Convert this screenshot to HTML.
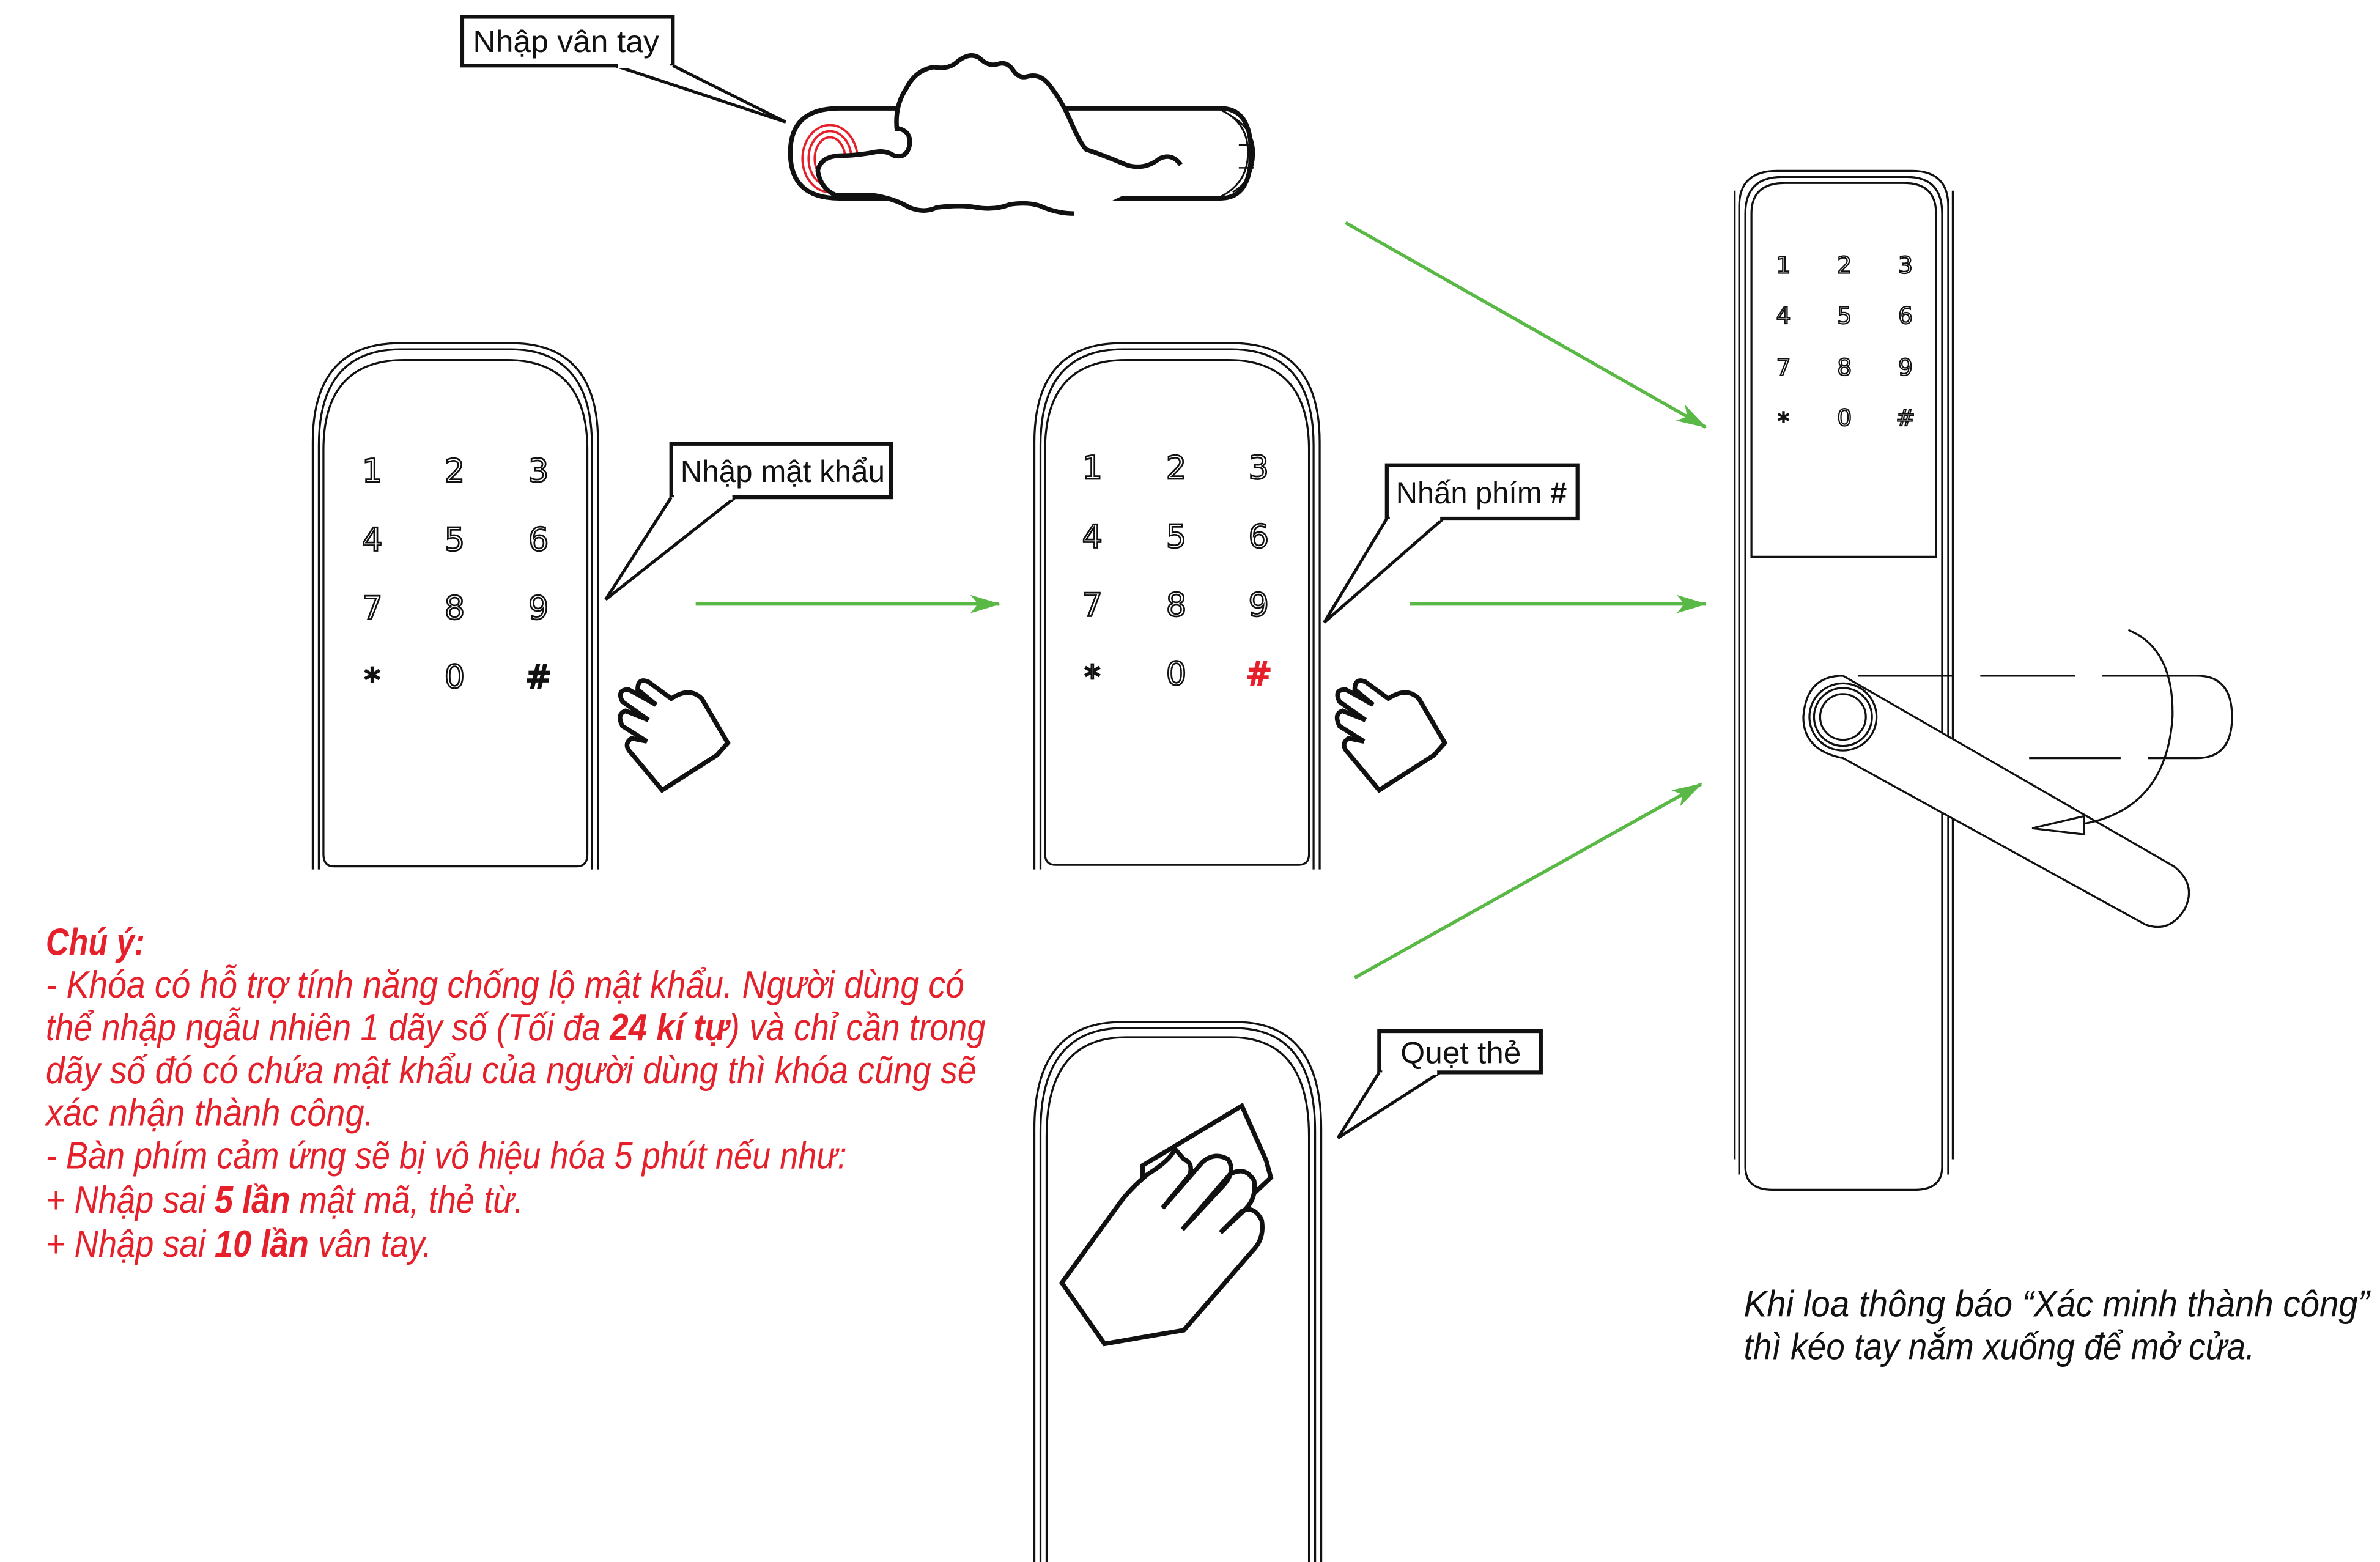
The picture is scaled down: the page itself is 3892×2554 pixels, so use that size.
<!DOCTYPE html>
<html><head><meta charset="utf-8"><style>
html,body{margin:0;padding:0;background:#fff;}
svg{display:block;}
.k{font-family:"DejaVu Sans","Liberation Sans",sans-serif;font-size:21px;fill:none;stroke:#111;stroke-width:1.1;text-anchor:middle;}
.kl{font-family:"DejaVu Sans","Liberation Sans",sans-serif;font-size:15px;fill:none;stroke:#111;stroke-width:0.9;text-anchor:middle;}
.lbl{font-family:"Liberation Sans",sans-serif;font-size:20px;fill:#111;}
.r{font-family:"Liberation Sans","Noto Sans CJK SC",sans-serif;font-size:25px;fill:#e5202a;font-style:italic;}
.b{font-family:"Liberation Sans","Noto Sans CJK SC",sans-serif;font-size:24px;fill:#111;font-style:italic;}
</style></head><body>
<svg width="3892" height="2554" viewBox="0 0 1560 1024" preserveAspectRatio="none" xmlns="http://www.w3.org/2000/svg">
<defs>
<marker id="ah" viewBox="0 0 20 12" refX="19" refY="6" markerWidth="20" markerHeight="12" markerUnits="userSpaceOnUse" orient="auto">
<path d="M0,0 L20,6 L0,12 L5,6 Z" fill="#5ab946"/></marker>
</defs>
<g fill="none" stroke="#111">
<!-- fingerprint sensor -->
<path d="M550,71 H800 Q820,71 820,100 Q820,130 800,130 H550 Q518,130 518,100 Q518,71 550,71 Z" stroke-width="3"/>
<path d="M800,72 Q818,80 818,100 Q818,120 800,129" stroke-width="1.2"/>
<path d="M807,76 Q822,85 822,100 Q822,118 808,126" stroke-width="1.2"/>
<line x1="812" y1="95" x2="822" y2="95" stroke-width="1"/>
<line x1="812" y1="110" x2="822" y2="110" stroke-width="1"/>
<g stroke="#e5202a" stroke-width="1.5"><ellipse cx="544" cy="104" rx="18" ry="22"/><ellipse cx="544" cy="104" rx="14" ry="18"/><ellipse cx="544" cy="104" rx="10" ry="14"/></g>
<!-- hand -->
<path d="M588,86 Q586,70 594,58 Q600,46 612,44 Q622,46 628,40 Q636,34 642,38 Q648,44 654,42 Q660,40 664,46 Q668,52 674,50 Q682,48 688,56 Q696,66 702,80 Q708,94 712,98 Q722,104 734,110 Q745,118 752,126 L774,110 L726,133 L600,133 Z" fill="#fff" stroke="none"/>
<path d="M588,86 Q586,70 594,58 Q600,46 612,44 Q622,46 628,40 Q636,34 642,38 Q648,44 654,42 Q660,40 664,46 Q668,52 674,50 Q682,48 688,56 Q696,66 702,80 Q708,94 712,98 Q724,102 738,108 Q750,112 760,104 Q768,100 774,108" stroke-width="3"/>
<path d="M588,84 Q598,86 596,96 Q594,104 586,102 Q580,98 572,100 Q560,102 552,102 Q538,102 536,112 Q538,124 548,128 Q560,128 572,128 Q586,130 596,136 Q606,140 614,136 Q630,134 640,136 Q652,138 662,134 Q676,132 684,136 Q694,140 704,140" fill="#fff" stroke-width="3"/>
<!-- label boxes -->
<rect x="303" y="11" width="138" height="32" stroke-width="2.5"/>
<path d="M441,43 L515,80 L403,43" fill="#fff" stroke-width="2"/>
<line x1="405" y1="43" x2="439" y2="43" stroke="#fff" stroke-width="3"/>
<rect x="440" y="291" width="144" height="35" stroke-width="2.5"/>
<path d="M440,326 L397,393 L482,326" fill="#fff" stroke-width="2"/>
<line x1="442" y1="326" x2="480" y2="326" stroke="#fff" stroke-width="3"/>
<rect x="909" y="305" width="125" height="35" stroke-width="2.5"/>
<path d="M909,340 L868,408 L946,340" fill="#fff" stroke-width="2"/>
<line x1="911" y1="340" x2="944" y2="340" stroke="#fff" stroke-width="3"/>
<rect x="904" y="676" width="106" height="27" stroke-width="2.5"/>
<path d="M904,703 L877,746 L944,703" fill="#fff" stroke-width="2"/>
<line x1="906" y1="703" x2="942" y2="703" stroke="#fff" stroke-width="3"/>
<!-- keypads -->
<g stroke-width="1.3">
<path d="M205,570 V290 Q205,225 262,225 H335 Q392,225 392,290 V570"/>
<path d="M209,570 V292 Q209,229 263,229 H334 Q388,229 388,292 V570"/>
<path d="M212,560 V295 Q212,236 265,236 H332 Q385,236 385,295 V560 Q385,568 378,568 H219 Q212,568 212,560"/>
<path d="M678,570 V290 Q678,225 735,225 H808 Q865,225 865,290 V570"/>
<path d="M682,570 V292 Q682,229 736,229 H807 Q861,229 861,292 V570"/>
<path d="M685,560 V295 Q685,236 738,236 H805 Q858,236 858,295 V560 Q858,567 851,567 H692 Q685,567 685,560"/>
<path d="M678,1024 V740 Q678,670 735,670 H810 Q866,670 866,740 V1024"/>
<path d="M682,1024 V742 Q682,674 736,674 H809 Q862,674 862,742 V1024"/>
<path d="M686,1024 V745 Q686,680 738,680 H807 Q858,680 858,745 V1024"/>
</g>
<!-- pointing hands -->
<g stroke-width="3" fill="#fff">
<path d="M434,518 L470,495 L477,487 L460,458 Q452,450 440,458 L425,447 Q418,444 418,452 L430,462 L412,452 Q404,452 408,460 L425,472 L410,466 Q404,468 408,476 L424,486 L414,484 Q408,488 414,494 Z"/>
<path d="M904,518 L940,495 L947,487 L930,458 Q922,450 910,458 L895,447 Q888,444 888,452 L900,462 L882,452 Q874,452 878,460 L895,472 L880,466 Q874,468 878,476 L894,486 L884,484 Q878,488 884,494 Z"/>
<!-- card hand -->
<path d="M749,764 L814,725 L830,761 L833,772 L780,822 L748,790 Z" stroke-width="3"/>
<path d="M724,881 L776,872 L821,820 Q829,812 827,800 Q822,790 814,794 L800,808 L815,794 Q824,786 822,774 Q816,764 806,770 L775,806 L802,777 Q810,768 805,760 Q796,755 788,762 L762,792 L780,770 Q782,762 776,760 L770,753 Q768,760 752,770 Q740,780 733,790 L696,841 Z"/>
</g>
<!-- lock -->
<g stroke-width="1.3">
<path d="M1140,770 V135 Q1140,112 1165,112 H1253 Q1277,112 1277,135 V770"/>
<path d="M1144,765 V140 Q1144,116 1168,116 H1250 Q1273,116 1273,140 V765 Q1273,780 1255,780 H1162 Q1144,780 1144,765"/>
<path d="M1148,365 V140 Q1148,120 1170,120 H1248 Q1269,120 1269,140 V365 H1148 Z"/>
<line x1="1137" y1="125" x2="1137" y2="760"/>
<line x1="1280" y1="125" x2="1280" y2="760"/>
<path d="M1218,443 H1440" stroke-dasharray="62,18"/>
<path d="M1330,497 H1440" stroke-dasharray="60,18"/>
<path d="M1440,443 Q1463,443 1463,470 Q1463,497 1440,497"/>
<path d="M1208,443 L1425,568 Q1440,580 1432,596 Q1422,612 1406,606 L1208,497 Q1182,492 1182,470 Q1184,443 1208,443 Z" fill="#fff"/>
<circle cx="1208" cy="470" r="22"/><circle cx="1208" cy="470" r="19"/><circle cx="1208" cy="470" r="15"/>
<path d="M1395,413 Q1425,425 1424,470 Q1420,530 1366,540"/>
<path d="M1332,543 L1366,535 L1366,547 Z" fill="#fff"/>
</g>
</g>
<!-- green arrows -->
<g stroke="#5ab946" stroke-width="2.2" marker-end="url(#ah)">
<line x1="456" y1="396" x2="655" y2="396"/>
<line x1="924" y1="396" x2="1118" y2="396"/>
<line x1="882" y1="146" x2="1118" y2="280"/>
<line x1="888" y1="641" x2="1115" y2="514"/>
</g>
<!-- keypad digits -->
<g class="k">
<text x="244" y="316">1</text><text x="298" y="316">2</text><text x="353" y="316">3</text>
<text x="244" y="361">4</text><text x="298" y="361">5</text><text x="353" y="361">6</text>
<text x="244" y="406">7</text><text x="298" y="406">8</text><text x="353" y="406">9</text>
<text x="244" y="453">*</text><text x="298" y="451">0</text><text x="353" y="451" style="fill:#111">#</text>
<text x="716" y="314">1</text><text x="771" y="314">2</text><text x="825" y="314">3</text>
<text x="716" y="359">4</text><text x="771" y="359">5</text><text x="825" y="359">6</text>
<text x="716" y="404">7</text><text x="771" y="404">8</text><text x="825" y="404">9</text>
<text x="716" y="451">*</text><text x="771" y="449">0</text><text x="825" y="449" style="fill:#e5202a;stroke:#e5202a">#</text>
</g>
<g class="kl">
<text x="1169" y="179">1</text><text x="1209" y="179">2</text><text x="1249" y="179">3</text>
<text x="1169" y="212">4</text><text x="1209" y="212">5</text><text x="1249" y="212">6</text>
<text x="1169" y="246">7</text><text x="1209" y="246">8</text><text x="1249" y="246">9</text>
<text x="1169" y="281">*</text><text x="1209" y="279">0</text><text x="1249" y="279">#</text>
</g>
<!-- labels -->
<text class="lbl" x="310" y="34" textLength="122" lengthAdjust="spacingAndGlyphs">Nhập vân tay</text>
<text class="lbl" x="446" y="316" textLength="134" lengthAdjust="spacingAndGlyphs">Nhập mật khẩu</text>
<text class="lbl" x="915" y="330" textLength="112" lengthAdjust="spacingAndGlyphs">Nhấn phím <tspan font-weight="bold">#</tspan></text>
<text class="lbl" x="918" y="697" textLength="79" lengthAdjust="spacingAndGlyphs">Quẹt thẻ</text>
<!-- red notes -->
<text class="r" x="30" y="626" font-weight="bold" textLength="65" lengthAdjust="spacingAndGlyphs">Chú ý:</text>
<text class="r" x="30" y="654" textLength="602" lengthAdjust="spacingAndGlyphs">- Khóa có hỗ trợ tính năng chống lộ mật khẩu. Người dùng có</text>
<text class="r" x="30" y="682" textLength="616" lengthAdjust="spacingAndGlyphs">thể nhập ngẫu nhiên 1 dãy số (Tối đa <tspan font-weight="bold">24 kí tự</tspan>) và chỉ cần trong</text>
<text class="r" x="30" y="710" textLength="610" lengthAdjust="spacingAndGlyphs">dãy số đó có chứa mật khẩu của người dùng thì khóa cũng sẽ</text>
<text class="r" x="30" y="738" textLength="215" lengthAdjust="spacingAndGlyphs">xác nhận thành công.</text>
<text class="r" x="30" y="766" textLength="525" lengthAdjust="spacingAndGlyphs">- Bàn phím cảm ứng sẽ bị vô hiệu hóa 5 phút nếu như:</text>
<text class="r" x="30" y="795" textLength="313" lengthAdjust="spacingAndGlyphs">+ Nhập sai <tspan font-weight="bold">5 lần</tspan> mật mã, thẻ từ.</text>
<text class="r" x="30" y="824" textLength="253" lengthAdjust="spacingAndGlyphs">+ Nhập sai <tspan font-weight="bold">10 lần</tspan> vân tay.</text>
<!-- bottom right -->
<text class="b" x="1143" y="863" textLength="410" lengthAdjust="spacingAndGlyphs">Khi loa thông báo “Xác minh thành công”</text>
<text class="b" x="1143" y="891" textLength="335" lengthAdjust="spacingAndGlyphs">thì kéo tay nắm xuống để mở cửa.</text>
</svg>
</body></html>
